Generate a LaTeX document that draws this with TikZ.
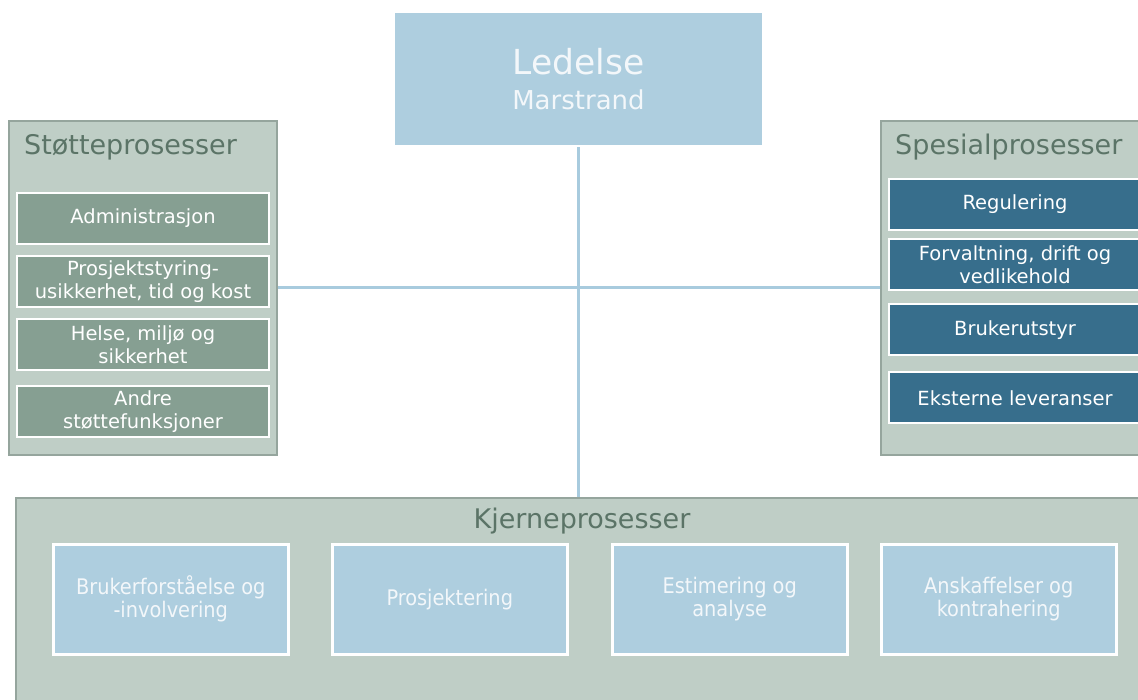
\documentclass[tikz,border=0pt]{standalone}
\usepackage{fontspec}
\setmainfont{DejaVu Sans}
\newfontfamily\condfont{DejaVu Sans Condensed}
\definecolor{panel}{HTML}{BFCEC6}
\definecolor{panelline}{HTML}{95A59D}
\definecolor{paneltext}{HTML}{5B7467}
\definecolor{support}{HTML}{869F92}
\definecolor{special}{HTML}{376E8C}
\definecolor{core}{HTML}{AECEDF}
\definecolor{link}{HTML}{A8CBDE}
\definecolor{pale}{HTML}{F3F7FA}

\tikzset{
  panelbox/.style={draw=panelline, fill=panel, line width=2pt, anchor=north west, inner sep=0pt},
  paneltitle/.style={text=paneltext, font=\fontsize{27}{32}\selectfont, inner sep=0pt, anchor=base west},
  subbox/.style={draw=white, line width=2pt, text=white, minimum height=51pt, align=center,
    font=\fontsize{19.5}{23}\selectfont, inner sep=0pt, anchor=north west},
  corebox/.style={draw=white, fill=core, line width=2.5pt, minimum width=235pt, minimum height=110pt,
    text=pale, align=center, font=\condfont\fontsize{21.5}{23}\selectfont, inner sep=0pt, anchor=north west},
  linkline/.style={link, line width=3pt}
}

\begin{document}
\begin{tikzpicture}[x=1pt, y=-1pt]
      \path[use as bounding box, fill=white] (0,0) rectangle (1138,700);
      \clip (0,0) rectangle (1138,700);

      % management
      \node[fill=core, minimum width=367pt, minimum height=132pt, anchor=north west, inner sep=0pt] (ledelse) at (395,13) {};
      \node[text=pale, font=\fontsize{34.5}{36}\selectfont, anchor=base, inner sep=0pt] (ledelsetitle) at (578.5,75) {Ledelse};
      \node[text=pale, font=\fontsize{26}{30}\selectfont, anchor=base, inner sep=0pt] (marstrand) at (578.5,110) {Marstrand};

      % support panel
      \node[panelbox, minimum width=268pt, minimum height=334pt] (stotte) at (8,120) {};
      \node[paneltitle] (stottetitle) at (24,155) {Støtteprosesser};
      \node[subbox, fill=support, minimum width=252pt] (admin) at (16,192) {Administrasjon};
      \node[subbox, fill=support, minimum width=252pt] (prosjekt) at (16,255.5) {Prosjektstyring-\\usikkerhet, tid og kost};
      \node[subbox, fill=support, minimum width=252pt] (hms) at (16,318.5) {Helse, miljø og\\sikkerhet};
      \node[subbox, fill=support, minimum width=252pt] (andre) at (16,385) {Andre\\støttefunksjoner};

      % special panel
      \node[panelbox, minimum width=270pt, minimum height=334pt] (spesial) at (880,120) {};
      \node[paneltitle] (spesialtitle) at (895,155) {Spesialprosesser};
      \node[subbox, fill=special, minimum width=252pt] (regulering) at (888,178) {Regulering};
      \node[subbox, fill=special, minimum width=252pt] (forvaltning) at (888,238) {Forvaltning, drift og\\vedlikehold};
      \node[subbox, fill=special, minimum width=252pt] (brukerutstyr) at (888,303.5) {Brukerutstyr};
      \node[subbox, fill=special, minimum width=252pt] (eksterne) at (888,371.5) {Eksterne leveranser};

      % links
      \draw[linkline] (stotte.east) -- (spesial.west);
      \draw[linkline, shorten <=2pt] (ledelse.south) -- (ledelse.south |- 0,497);

      % core panel
      \node[panelbox, minimum width=1130pt, minimum height=210pt] (kjerne) at (15,497) {};
      \node[paneltitle, anchor=base] (kjernetitle) at (582,528) {Kjerneprosesser};
      \node[corebox] (bruker) at (52,543) {Brukerforståelse og\\-involvering};
      \node[corebox] (prosjektering) at (331,543) {Prosjektering};
      \node[corebox] (estimering) at (611,543) {Estimering og\\analyse};
      \node[corebox] (anskaffelser) at (880,543) {Anskaffelser og\\kontrahering};
\end{tikzpicture}
\end{document}
